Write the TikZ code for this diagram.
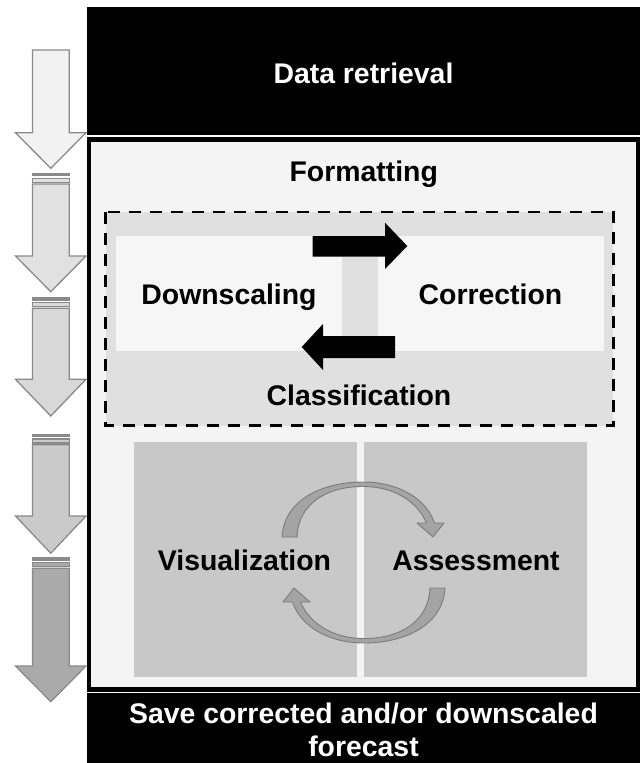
\documentclass[tikz,border=0pt]{standalone}
\usepackage{fontspec}
\setmainfont{Liberation Sans}
\definecolor{framefill}{HTML}{F4F4F4}
\definecolor{dashfill}{HTML}{E0E0E0}
\definecolor{bandfill}{HTML}{F6F6F6}
\definecolor{panelfill}{HTML}{C8C8C8}
\definecolor{arrowedge}{HTML}{8A8A8A}
\definecolor{cycfill}{HTML}{A4A4A4}
\definecolor{cycedge}{HTML}{7C7C7C}
\definecolor{ga}{HTML}{F2F2F2}
\definecolor{gb}{HTML}{E1E1E1}
\definecolor{gc}{HTML}{D8D8D8}
\definecolor{gd}{HTML}{CACACA}
\definecolor{ge}{HTML}{AAAAAA}
\tikzset{
  lbl/.style={anchor=base, inner sep=0pt, font=\fontsize{28.4}{33}\selectfont\bfseries},
  wlbl/.style={lbl, text=white, align=center},
  arrowline/.style={draw=arrowedge, line width=1.3pt, line join=miter},
  cycarrow/.style={fill=cycfill, draw=cycedge, line width=0.9pt, line join=round},
}
\newcommand\lftarrow[4]{%
  \draw[arrowline, fill=#4] (32.5,#1) -- (69.3,#1) -- (69.3,#2) -- (86,#2) -- (50.8,#3) -- (15.5,#2) -- (32.5,#2) -- cycle;}
\newcommand\lftcaps[2]{%
  \draw[arrowline, fill=arrowedge] (32.5,#1-10.5) rectangle (69.3,#1-8.2);
  \draw[arrowline, fill=#2] (32.5,#1-5.8) rectangle (69.3,#1-1.8);}
\begin{document}
\begin{tikzpicture}[x=1pt, y=-1pt]
\useasboundingbox (0,0) rectangle (640,763);
\fill[white] (0,0) rectangle (640,763);

% top and bottom black boxes
\fill[black] (87,7.3) rectangle (640,135);
\fill[black] (87,693.3) rectangle (640,763);

% main frame
\draw[line width=4.3pt, fill=framefill] (89.2,139.5) rectangle (637.8,689.5);

% dashed box
\draw[line width=2.7pt, dash pattern=on 12pt off 9pt, fill=dashfill] (105.7,212) rectangle (613.3,425.5);
\fill[bandfill] (116,235.5) rectangle (604,350.7);
\fill[dashfill] (342,256.7) rectangle (378,336);

% black horizontal arrows
\fill[black] (312.7,236) -- (385,236) -- (385,222.7) -- (407.3,246) -- (385,269) -- (385,256.7) -- (312.7,256.7) -- cycle;
\fill[black] (395,336) -- (323,336) -- (323,324) -- (301.7,347) -- (323,370) -- (323,358) -- (395,358) -- cycle;

% lower panels
\fill[panelfill] (133.5,441.7) rectangle (356.7,677.3);
\fill[panelfill] (364.3,441.7) rectangle (587.3,677.3);

% cycle arrows
\path[cycarrow] (282,537) .. controls (284,500) and (322,482) .. (363,482)
  .. controls (400,482) and (427,500) .. (434.5,523)
  -- (444,523) -- (433,537) -- (417,523) -- (426.5,523)
  .. controls (418,503) and (396,486.5) .. (363,486.5)
  .. controls (325,486.5) and (298,505) .. (297,537) -- cycle;
\begin{scope}[rotate around={180:(363.5,562.5)}]
\path[cycarrow] (282,537) .. controls (284,500) and (322,482) .. (363,482)
  .. controls (400,482) and (427,500) .. (434.5,523)
  -- (444,523) -- (433,537) -- (417,523) -- (426.5,523)
  .. controls (418,503) and (396,486.5) .. (363,486.5)
  .. controls (325,486.5) and (298,505) .. (297,537) -- cycle;
\end{scope}

% left block arrows
\lftarrow{50}{132.7}{168.3}{ga}
\lftcaps{184}{gb}
\lftarrow{184}{256}{291.7}{gb}
\lftcaps{308.3}{gc}
\lftarrow{308.3}{379.3}{416}{gc}
\lftcaps{444.7}{gd}
\lftarrow{444.7}{516}{553.3}{gd}
\lftcaps{568.3}{ge}
\lftarrow{568.3}{666}{701.7}{ge}

% labels
\node[wlbl] (retrieval) at (363.5,83.3) {Data retrieval};
\node[lbl] (formatting) at (363.7,181.7) {Formatting};
\node[lbl] (downscaling) at (229,304.3) {Downscaling};
\node[lbl] (correction) at (490.5,304.3) {Correction};
\node[lbl] (classification) at (359,405) {Classification};
\node[lbl] (visualization) at (244.5,570) {Visualization};
\node[lbl] (assessment) at (476,570) {Assessment};
\node[wlbl] (save1) at (363.5,723.3) {Save corrected and/or downscaled};
\node[wlbl] (save2) at (363.5,756.5) {forecast};
\end{tikzpicture}
\end{document}
